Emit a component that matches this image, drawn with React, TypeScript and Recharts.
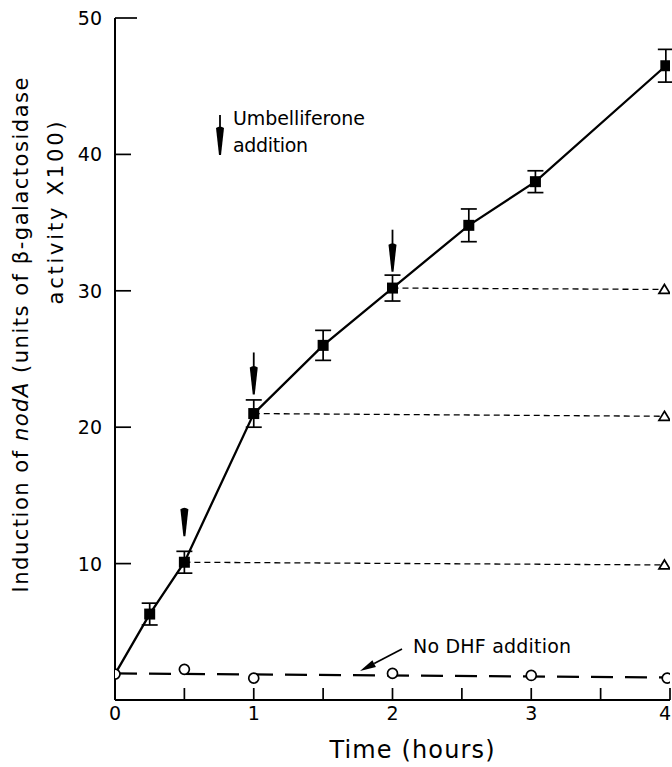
import React from "react";
import { ComposedChart, Line, Scatter, XAxis, YAxis, ErrorBar } from "recharts";

// induction with umbelliferone (filled squares)
const mainTime = [0, 0.25, 0.5, 1, 1.5, 2, 2.55, 3.03, 3.97];
const mainValue = [1.9, 6.3, 10.1, 21.0, 26.0, 30.2, 34.8, 38.0, 46.5];
const mainError = [0, 0.8, 0.8, 1.0, 1.1, 0.95, 1.2, 0.8, 1.2];

// umbelliferone removed: plateau lines ending in open triangles
const plateauStart = [0.5, 1, 2];
const plateauStartValue = [10.1, 21.0, 30.2];
const plateauEnd = 3.96;
const plateauEndValue = [9.9, 20.8, 30.1];

// no DHF addition (open circles)
const dhfTime = [0, 0.5, 1, 2, 3, 3.98];
const dhfValue = [1.9, 2.25, 1.6, 1.95, 1.8, 1.6];
const dhfFitTime = [0, 4];
const dhfFitValue = [1.95, 1.65];

// umbelliferone addition arrows (tip positions)
const arrowTime = [0.5, 1, 2];
const arrowTip = [12.0, 22.4, 31.4];

const xTicks = [0, 0.5, 1, 1.5, 2, 2.5, 3, 3.5, 4];
const yTicks = [10, 20, 30, 40, 50];

const FONT = "'DejaVu Sans', 'Liberation Sans', sans-serif";

const mainData = mainTime.map((t, i) => ({ t, v: mainValue[i], err: mainError[i] }));
const squareData = mainData.slice(1);
const plateauData = plateauStart.map((t, i) => [
  { t, v: plateauStartValue[i] },
  { t: plateauEnd, v: plateauEndValue[i] },
]);
const triangleData = plateauEndValue.map((v) => ({ t: plateauEnd, v }));
const dhfData = dhfTime.map((t, i) => ({ t, v: dhfValue[i] }));
const dhfFit = dhfFitTime.map((t, i) => ({ t, v: dhfFitValue[i] }));
const arrowData = arrowTime.map((t, i) => ({ t, v: arrowTip[i] }));

const Square = (props: any) => {
  const { cx, cy } = props;
  if (cx == null || cy == null) return null;
  return <rect x={cx - 5.5} y={cy - 5.5} width={11} height={11} fill="#000" />;
};

const Circle = (props: any) => {
  const { cx, cy } = props;
  if (cx == null || cy == null) return null;
  return <circle cx={cx} cy={cy} r={5} fill="#fff" stroke="#000" strokeWidth={1.7} />;
};

const Triangle = (props: any) => {
  const { cx, cy } = props;
  if (cx == null || cy == null) return null;
  return (
    <path
      d={`M${cx},${cy - 5} L${cx + 5.5},${cy + 4} L${cx - 5.5},${cy + 4} Z`}
      fill="#fff"
      stroke="#000"
      strokeWidth={1.7}
    />
  );
};

const DownArrow = ({ x, y, len }: any) => (
  <g>
    <line x1={x} x2={x} y1={y - len} y2={y - 24} stroke="#000" strokeWidth={1.8} />
    <path
      d={`M${x - 4},${y - 27} Q${x},${y - 30} ${x + 4},${y - 27} L${x + 1},${y} L${x - 1},${y} Z`}
      fill="#000"
    />
  </g>
);

const ArrowShape = (props: any) => {
  const { cx, cy, index } = props;
  if (cx == null || cy == null) return null;
  return <DownArrow x={cx} y={cy} len={index === 0 ? 28 : 42} />;
};

const XTick = (props: any) => {
  const { x, y, payload } = props;
  const v = payload.value;
  const last = v === 4;
  return (
    <g>
      <line x1={x} x2={x} y1={y} y2={y - 12} stroke="#000" strokeWidth={1.7} />
      {Number.isInteger(v) && (
        <text
          x={last ? x + 1 : x}
          y={y + 20}
          textAnchor={last ? "end" : "middle"}
          fontSize={19}
          fontFamily={FONT}
          fill="#000"
        >
          {v}
        </text>
      )}
    </g>
  );
};

const YTick = (props: any) => {
  const { x, y, payload } = props;
  const v = payload.value;
  return (
    <g>
      <line x1={x} x2={x + (v === 50 ? 22 : 16)} y1={y} y2={y} stroke="#000" strokeWidth={1.7} />
      <text x={x - 13} y={y + 7} textAnchor="end" fontSize={19} fontFamily={FONT} fill="#000">
        {v}
      </text>
    </g>
  );
};

const Annotations = () => {
  // arrow toward the dashed no-DHF line
  const tail = { x: 402, y: 649 };
  const tip = { x: 360, y: 671 };
  const dx = tip.x - tail.x;
  const dy = tip.y - tail.y;
  const L = Math.hypot(dx, dy);
  const ux = dx / L;
  const uy = dy / L;
  const bx = tip.x - 16 * ux;
  const by = tip.y - 16 * uy;
  const nx = -uy * 3.8;
  const ny = ux * 3.8;
  return (
    <svg
      width={672}
      height={767}
      style={{ position: "absolute", left: 0, top: 0, pointerEvents: "none" }}
    >
      <g fontFamily={FONT} fill="#000">
        <text
          transform="translate(28,335) rotate(-90)"
          textAnchor="middle"
          fontSize={21}
          textLength={515}
          lengthAdjust="spacing"
        >
          Induction of <tspan fontStyle="italic">nodA</tspan> (units of β-galactosidase
        </text>
        <text
          transform="translate(63,213) rotate(-90)"
          textAnchor="middle"
          fontSize={21}
          textLength={183}
          lengthAdjust="spacing"
        >
          activity X100)
        </text>
        <text x={412} y={758} textAnchor="middle" fontSize={24} textLength={165} lengthAdjust="spacing">
          Time (hours)
        </text>
        <text x={233} y={125} fontSize={19} textLength={132} lengthAdjust="spacing">
          Umbelliferone
        </text>
        <text x={233} y={152} fontSize={19} textLength={75} lengthAdjust="spacing">
          addition
        </text>
        <text x={413} y={653} fontSize={19} textLength={158} lengthAdjust="spacing">
          No DHF addition
        </text>
      </g>
      <DownArrow x={220} y={155} len={40} />
      <line x1={tail.x} y1={tail.y} x2={bx} y2={by} stroke="#000" strokeWidth={1.7} />
      <path
        d={`M${tip.x},${tip.y} L${bx + nx},${by + ny} L${bx - nx},${by - ny} Z`}
        fill="#000"
      />
    </svg>
  );
};

export default function App() {
  return (
    <div style={{ position: "absolute", left: 0, top: 0, width: 672, height: 767, background: "#fff" }}>
      <ComposedChart
        width={672}
        height={767}
        margin={{ top: 18, right: 2, left: 0, bottom: 0 }}
      >
        <XAxis
          type="number"
          dataKey="t"
          domain={[0, 4]}
          ticks={xTicks}
          interval={0}
          height={67}
          tickLine={false}
          tickSize={0}
          tickMargin={0}
          tick={<XTick />}
          axisLine={{ stroke: "#000", strokeWidth: 2 }}
          allowDataOverflow
        />
        <YAxis
          type="number"
          domain={[0, 50]}
          ticks={yTicks}
          interval={0}
          width={115}
          tickLine={false}
          tickSize={0}
          tickMargin={0}
          tick={<YTick />}
          axisLine={{ stroke: "#000", strokeWidth: 2 }}
          allowDataOverflow
        />
        {plateauData.map((d, i) => (
          <Line
            key={`plateau-${i}`}
            data={d}
            dataKey="v"
            stroke="#000"
            strokeWidth={1.3}
            strokeDasharray="6 4"
            dot={false}
            isAnimationActive={false}
          />
        ))}
        <Line
          data={dhfFit}
          dataKey="v"
          stroke="#000"
          strokeWidth={2.3}
          strokeDasharray="22 12"
          dot={false}
          isAnimationActive={false}
        />
        <Line
          data={mainData}
          dataKey="v"
          stroke="#000"
          strokeWidth={2.3}
          dot={false}
          isAnimationActive={false}
        />
        <Scatter data={squareData} dataKey="v" shape={<Square />} isAnimationActive={false}>
          <ErrorBar dataKey="err" direction="y" width={8} stroke="#000" strokeWidth={1.7} />
        </Scatter>
        <Scatter data={triangleData} dataKey="v" shape={<Triangle />} isAnimationActive={false} />
        <Scatter data={dhfData} dataKey="v" shape={<Circle />} isAnimationActive={false} />
        <Scatter data={arrowData} dataKey="v" shape={<ArrowShape />} isAnimationActive={false} />
      </ComposedChart>
      <Annotations />
    </div>
  );
}
